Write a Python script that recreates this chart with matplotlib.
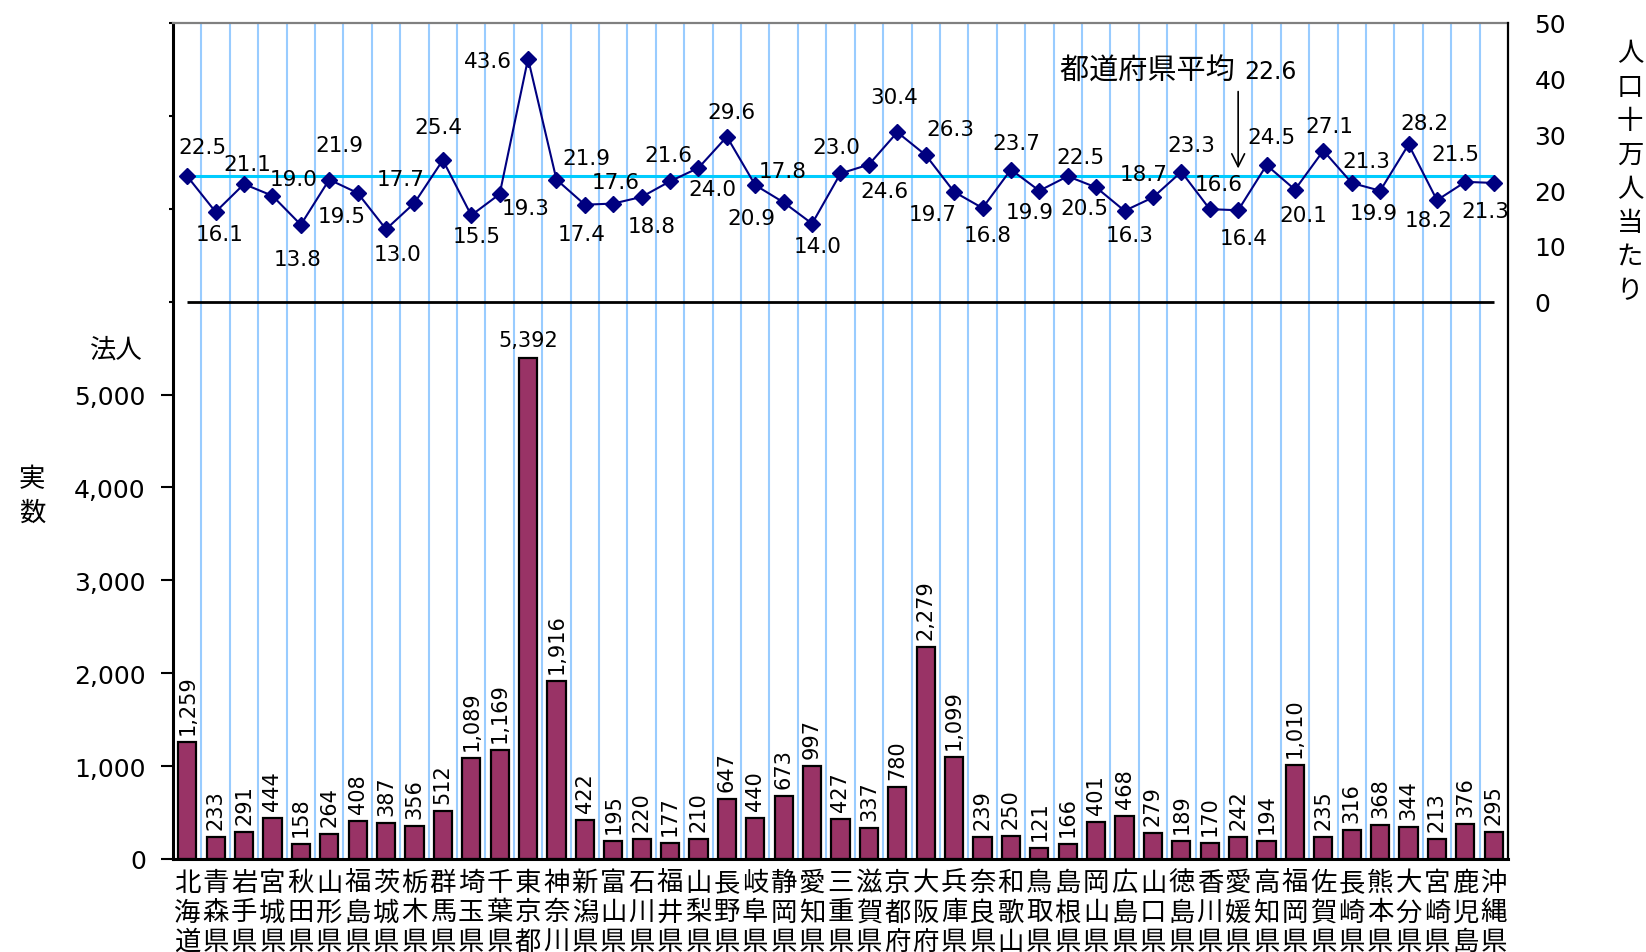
import matplotlib
matplotlib.use("Agg")
import matplotlib.pyplot as plt
import numpy as np

plt.rcParams['font.family'] = ['DejaVu Sans', 'Noto Sans CJK JP']

prefectures = ["北海道", "青森県", "岩手県", "宮城県", "秋田県", "山形県", "福島県", "茨城県",
               "栃木県", "群馬県", "埼玉県", "千葉県", "東京都", "神奈川県", "新潟県", "富山県",
               "石川県", "福井県", "山梨県", "長野県", "岐阜県", "静岡県", "愛知県", "三重県",
               "滋賀県", "京都府", "大阪府", "兵庫県", "奈良県", "和歌山県", "鳥取県", "島根県",
               "岡山県", "広島県", "山口県", "徳島県", "香川県", "愛媛県", "高知県", "福岡県",
               "佐賀県", "長崎県", "熊本県", "大分県", "宮崎県", "鹿児島県", "沖縄県"]

counts = [1259, 233, 291, 444, 158, 264, 408, 387, 356, 512, 1089, 1169, 5392, 1916, 422, 195,
          220, 177, 210, 647, 440, 673, 997, 427, 337, 780, 2279, 1099, 239, 250, 121, 166,
          401, 468, 279, 189, 170, 242, 194, 1010, 235, 316, 368, 344, 213, 376, 295]

rates = [22.5, 16.1, 21.1, 19.0, 13.8, 21.9, 19.5, 13.0, 17.7, 25.4, 15.5, 19.3, 43.6, 21.9,
         17.4, 17.6, 18.8, 21.6, 24.0, 29.6, 20.9, 17.8, 14.0, 23.0, 24.6, 30.4, 26.3, 19.7,
         16.8, 23.7, 19.9, 22.5, 20.5, 16.3, 18.7, 23.3, 16.6, 16.4, 24.5, 20.1, 27.1, 21.3,
         19.9, 28.2, 18.2, 21.5, 21.3]

average_rate = 22.6
left_ticks = [0, 1000, 2000, 3000, 4000, 5000]
right_ticks = [0, 10, 20, 30, 40, 50]

# label placement offsets in pixels (dx right, dy down)
label_offsets = [(15, -29), (4, 22), (3, -20), (21, -17), (-3, 34), (10, -35), (-16, 23), (12, 25),
                 (-14, -24), (-4, -33), (5, 21), (26, 14), (-40, 2),
                 (30, -22), (-3, 29), (2, -22), (10, 29), (-2, -26), (14, 21), (5, -25), (-4, 33),
                 (-1, -31), (6, 22), (-4, -26), (16, 26), (-3, -35), (25, -26), (-21, 22), (5, 27),
                 (5, -27), (-10, 21), (13, -19), (-12, 21),
                 (5, 24), (-9, -23), (10, -27), (9, -25), (6, 28), (5, -28), (8, 25), (6, -25),
                 (15, -22), (-6, 22), (16, -21), (-8, 20), (-10, -28), (-8, 28)]

W, H = 1646, 953
fig = plt.figure(figsize=(W / 100, H / 100), dpi=100)
L, R, T, B = 173, 1508, 24, 860
ax = fig.add_axes([L / W, 1 - B / H, (R - L) / W, (B - T) / H])

n = len(prefectures)
x = np.arange(n)
ax.set_xlim(-0.5, n - 0.5)
ax.set_ylim(0, 9000)

for b in np.arange(0.5, n - 0.5, 1.0):
    ax.axvline(b, color='#99CCFF', lw=1.5, zorder=0)

ax.bar(x, counts, width=0.64, color='#993366', edgecolor='black', linewidth=1.6, zorder=2)

for i, v in enumerate(counts):
    if v > 5000:
        ax.annotate(f"{v:,}", xy=(i, v), xytext=(0, 8), textcoords='offset pixels',
                    ha='center', va='bottom', fontsize=15)
    else:
        ax.annotate(f"{v:,}", xy=(i, v), xytext=(0, 8), textcoords='offset pixels',
                    ha='center', va='bottom', rotation=90, fontsize=15)

ax.set_xticks([])
ax.set_yticks(left_ticks)
ax.set_yticklabels([f"{t:,}" for t in left_ticks])
ax.set_yticks([6000, 7000, 8000, 9000], minor=True)
ax.tick_params(axis='y', which='major', length=8.6, width=1.5, labelsize=18, pad=11)
ax.tick_params(axis='y', which='minor', length=3, width=1.5)

ax.spines['top'].set_color('#808080')
ax.spines['top'].set_linewidth(1.6)
ax.spines['left'].set_linewidth(2.2)
ax.spines['bottom'].set_linewidth(2.2)
ax.spines['right'].set_visible(False)

# category labels, three characters stacked
for i, name in enumerate(prefectures):
    for j, ch in enumerate(name[:3]):
        ax.annotate(ch, xy=(i, 0), xycoords=('data', 'axes fraction'),
                    xytext=(0, -(24 + 29.5 * j)), textcoords='offset pixels',
                    ha='center', va='center', fontsize=19, annotation_clip=False)

ax2 = ax.twinx()
ax2.set_ylim(-100, 50)
ax2.set_yticks(right_ticks)
ax2.set_yticklabels([str(t) for t in right_ticks])
ax2.tick_params(axis='y', length=0, labelsize=18, pad=19)
for s in ['top', 'left', 'bottom']:
    ax2.spines[s].set_visible(False)
ax2.spines['right'].set_linewidth(1.6)

ax2.hlines(0, x[0], x[-1], color='black', lw=2, zorder=2)
ax2.hlines(average_rate, x[0], x[-1], color='#00CCFF', lw=2.2, zorder=3)
ax2.plot(x, rates, color='#000080', marker='D', ms=8.5, lw=1.5, zorder=4)

for i, (v, (dx, dy)) in enumerate(zip(rates, label_offsets)):
    ax2.annotate(f"{v:.1f}", xy=(i, v), xytext=(dx, -dy), textcoords='offset pixels',
                 ha='center', va='center', fontsize=15.5, zorder=5)

ax2.text(37.2, 41.4, "都道府県平均 ", ha='right', va='center', fontsize=21)
ax2.text(37.2, 41.4, f"{average_rate}", ha='left', va='center', fontsize=17)
ax2.annotate('', xy=(37, 23.9), xytext=(37, 37.7),
             arrowprops=dict(arrowstyle='->', lw=1.2, color='black', mutation_scale=23,
                             shrinkA=0, shrinkB=0))

# axis titles
fig.text(143 / W, 1 - 351 / H, "法人", ha='right', va='center', fontsize=19)
for j, ch in enumerate("実数"):
    fig.text(32 / W, 1 - (480 + 34 * j) / H, ch, ha='center', va='center', fontsize=19)
for j, ch in enumerate("人口十万人当たり"):
    fig.text(1630 / W, 1 - (54 + 34 * j) / H, ch, ha='center', va='center', fontsize=19)

fig.savefig("out.png", dpi=100)
